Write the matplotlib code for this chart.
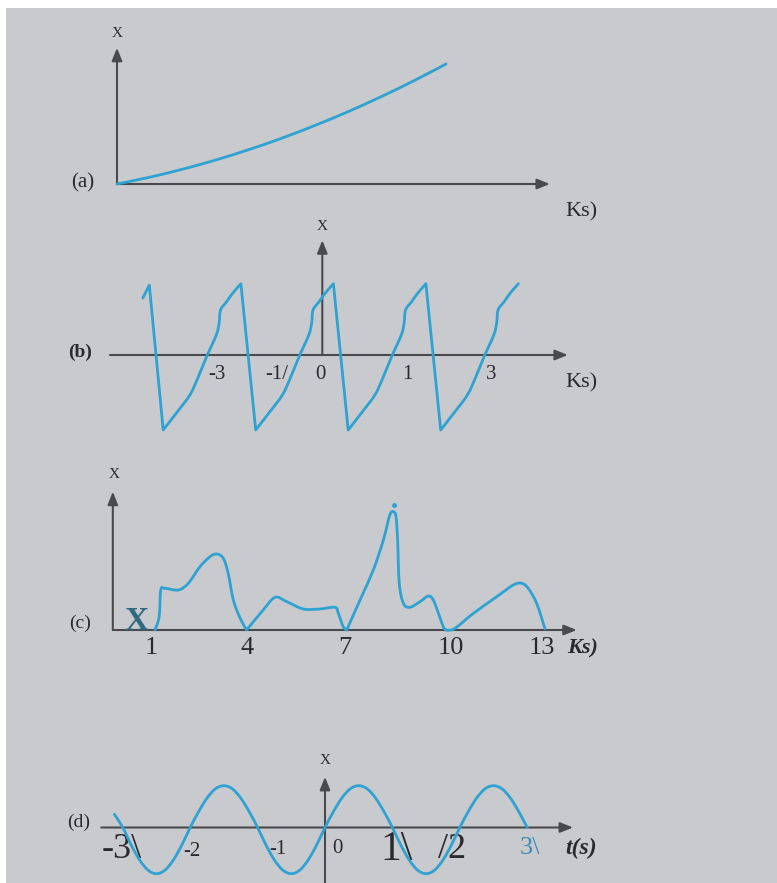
import numpy as np
import matplotlib.pyplot as plt
from matplotlib.patches import Rectangle, PathPatch
from matplotlib.path import Path

# -- Data -----------------------------------------------------------------------

# (a) smooth rising curve
a_t = [0, 1, 2, 3, 4, 5, 6, 7, 8, 9, 10]
a_x = [0, 0.57, 1.24, 2.0, 2.86, 3.81, 4.86, 6.0, 7.24, 8.57, 10.0]

# (b) sawtooth-like trace
b_t = [-3.88, -3.74,
       -3.44, -3.15, -2.86, -2.68, -2.50, -2.29, -2.23, -2.20, -2.07, -1.93, -1.76,
       -1.44, -1.15, -0.86, -0.68, -0.50, -0.29, -0.23, -0.20, -0.07, 0.07, 0.24,
       0.56, 0.85, 1.14, 1.32, 1.50, 1.71, 1.77, 1.80, 1.93, 2.07, 2.24,
       2.56, 2.85, 3.14, 3.32, 3.50, 3.71, 3.77, 3.80, 3.93, 4.07, 4.24]
b_x = [0.76, 0.93,
       -1.0, -0.77, -0.53, -0.29, -0.02, 0.27, 0.43, 0.60, 0.71, 0.83, 0.95,
       -1.0, -0.77, -0.53, -0.29, -0.02, 0.27, 0.43, 0.60, 0.71, 0.83, 0.95,
       -1.0, -0.77, -0.53, -0.29, -0.02, 0.27, 0.43, 0.60, 0.71, 0.83, 0.95,
       -1.0, -0.77, -0.53, -0.29, -0.02, 0.27, 0.43, 0.60, 0.71, 0.83, 0.95]
b_corners = [1, 2, 12, 13, 23, 24, 34, 35]          # sharp peaks / troughs
b_tick_pos = [-2.27, -0.99, -0.03, 1.83, 3.66]
b_tick_lbl = ["-3", "-1/", "0", "1", "3"]

# (c) irregular non-negative trace
c_t = [1.06, 1.19, 1.24, 1.37, 1.78, 2.09, 2.45, 2.76, 2.97, 3.17, 3.32, 3.48, 3.69, 3.89,
       4.40, 4.77, 5.13, 5.64, 6.15, 6.62, 6.72, 6.87, 6.98,
       7.39, 7.80, 8.11, 8.31, 8.42, 8.50, 8.55, 8.60, 8.73, 8.93, 9.24, 9.50, 9.65,
       9.81, 9.96, 10.06, 10.32, 10.89, 11.61, 12.12, 12.38, 12.58, 12.84, 13.10]
c_x = [0, 1.33, 4.0, 4.17, 4.0, 4.67, 6.33, 7.33, 7.6, 7.17, 5.67, 3.0, 1.17, 0,
       2.0, 3.27, 2.83, 2.1, 2.1, 2.27, 1.67, 0.33, 0,
       3.0, 6.0, 9.0, 11.5, 11.83, 11.33, 9.0, 4.67, 2.67, 2.27, 2.83, 3.4, 3.0,
       1.67, 0.33, 0, 0.17, 1.67, 3.33, 4.5, 4.67, 4.17, 2.67, 0.1]
c_corners = [13, 22]                                 # touch-downs at 4 and 7
c_tick_pos = [0.96, 3.89, 6.93, 10.19, 13.0]
c_tick_lbl = ["1", "4", "7", "10", "13"]

# (d) sinusoid, one reading every 1/8 s
d_t = np.arange(-3.125, 3.0001, 0.125)
d_x = [0.30, 0,
       -0.40, -0.74, -0.97, -1.05, -0.97, -0.74, -0.40, 0,
       0.36, 0.67, 0.88, 0.95, 0.88, 0.67, 0.36, 0,
       -0.40, -0.74, -0.97, -1.05, -0.97, -0.74, -0.40, 0,
       0.36, 0.67, 0.88, 0.95, 0.88, 0.67, 0.36, 0,
       -0.40, -0.74, -0.97, -1.05, -0.97, -0.74, -0.40, 0,
       0.36, 0.67, 0.88, 0.95, 0.88, 0.67, 0.36, 0]

# -- Style ---------------------------------------------------------------------

W, H = 777, 883
BG = "#c9cacd"
BLUE = "#2ea2d2"
AXIS = "#4a4a4c"
INK = "#2a2a2e"
SERIF = ["Liberation Serif", "DejaVu Serif"]

fig = plt.figure(figsize=(W / 100, H / 100), dpi=100, facecolor="white")
fig.patches.append(Rectangle((6 / W, 0), 1, 1 - 8 / H, transform=fig.transFigure,
                             facecolor=BG, edgecolor="none", zorder=-10))


def panel(ox, oy, sx, sy, xlim, ylim):
    """Axes whose data origin sits at pixel (ox, oy), sx/sy pixels per unit."""
    x0, x1 = ox + xlim[0] * sx, ox + xlim[1] * sx
    top, bot = oy - ylim[1] * sy, oy - ylim[0] * sy
    ax = fig.add_axes([x0 / W, 1 - bot / H, (x1 - x0) / W, (bot - top) / H])
    ax.set_xlim(xlim)
    ax.set_ylim(ylim)
    ax.axis("off")
    return ax


def arrow(ax, x0, y0, x1, y1):
    ax.annotate("", xy=(x1, y1), xytext=(x0, y0), annotation_clip=False,
                arrowprops=dict(arrowstyle="-|>,head_length=0.55,head_width=0.22",
                                color=AXIS, lw=1.5, shrinkA=0, shrinkB=0,
                                mutation_scale=14))


def label(ax, x, y, s, size, **kw):
    kw.setdefault("color", INK)
    ax.text(x, y, s, fontsize=size, family=SERIF, ha="center", va="center", **kw)


def curve(ax, t, x, corners=()):
    """Draw the read points as a smooth Bezier path, keeping sharp corners."""
    pts = np.column_stack([t, x]).astype(float)
    cuts = sorted(set([0, len(pts) - 1, *corners]))
    verts, codes = [pts[0]], [Path.MOVETO]
    for a, b in zip(cuts[:-1], cuts[1:]):
        seg = pts[a:b + 1]
        for i in range(len(seg) - 1):
            p0 = seg[i - 1] if i > 0 else seg[i]
            p3 = seg[i + 2] if i + 2 < len(seg) else seg[i + 1]
            p1, p2 = seg[i], seg[i + 1]
            verts += [p1 + (p2 - p0) / 6, p2 - (p3 - p1) / 6, p2]
            codes += [Path.CURVE4] * 3
    ax.add_patch(PathPatch(Path(verts, codes), facecolor="none", edgecolor=BLUE,
                           lw=2.0, clip_on=False, zorder=4, joinstyle="round",
                           capstyle="round"))


# -- (a) -----------------------------------------------------------------------
ax = panel(117, 184, 32.9, 12, (0, 13.2), (0, 11.4))
arrow(ax, 0, 0, 13.16, 0)
arrow(ax, 0, 0, 0, 11.35)
curve(ax, a_t, a_x)
label(ax, 0, 12.55, "X", 11)
label(ax, -1.05, 0.1, "(a)", 15)
label(ax, 14.13, -2.35, "Ks)", 16)

# -- (b) -----------------------------------------------------------------------
ax = panel(322.3, 355, 46.25, 75, (-4.6, 5.32), (0, 1.55))
arrow(ax, -4.59, 0, 5.31, 0)
arrow(ax, 0, 0, 0, 1.53)
curve(ax, b_t, b_x, b_corners)
label(ax, 0, 1.71, "X", 11)
label(ax, -5.24, 0.03, "(b)", 14, fontweight="bold")
for p, s in zip(b_tick_pos, b_tick_lbl):
    label(ax, p, -0.26, s, 15)
label(ax, 5.61, -0.37, "Ks)", 16)

# -- (c) -----------------------------------------------------------------------
ax = panel(120.6, 630, 32.4, 10, (-0.24, 14.1), (0, 13.9))
arrow(ax, -0.24, 0, 14.08, 0)
arrow(ax, -0.24, 0, -0.24, 13.83)
curve(ax, c_t, c_x, c_corners)
ax.plot([8.44], [12.5], marker="o", ms=2.5, color=BLUE, clip_on=False, zorder=4)
label(ax, -0.2, 15.5, "X", 11)
label(ax, -1.25, 0.7, "(c)", 14)
ax.text(0.49, 0.0, "X", fontsize=24, family=SERIF, fontweight="bold",
        color="#2f6a80", ha="center", va="baseline")
for p, s in zip(c_tick_pos, c_tick_lbl):
    label(ax, p, -1.75, s, 19)
label(ax, 14.26, -1.8, "Ks)", 16, fontweight="bold", style="italic")

# -- (d) -----------------------------------------------------------------------
ax = panel(325, 827.5, 67.4, 44, (-3.32, 3.7), (-1.26, 1.16))
arrow(ax, -3.32, 0, 3.68, 0)
arrow(ax, 0, -1.3, 0, 1.15)
curve(ax, d_t, d_x)
label(ax, 0, 1.53, "X", 11)
label(ax, -3.66, 0.12, "(d)", 14)
label(ax, -3.02, -0.51, "-3\\", 26)
label(ax, -1.97, -0.55, "-2", 15)
label(ax, -0.70, -0.5, "-1", 15)
label(ax, 0.18, -0.47, "0", 15)
label(ax, 1.06, -0.51, "1\\", 30)
label(ax, 1.89, -0.51, "/2", 26)
label(ax, 3.04, -0.47, "3\\", 19, color="#3a8cb6")
label(ax, 3.80, -0.47, "t(s)", 17, fontweight="bold", style="italic")

fig.savefig("out.png", dpi=100, facecolor=fig.get_facecolor())
